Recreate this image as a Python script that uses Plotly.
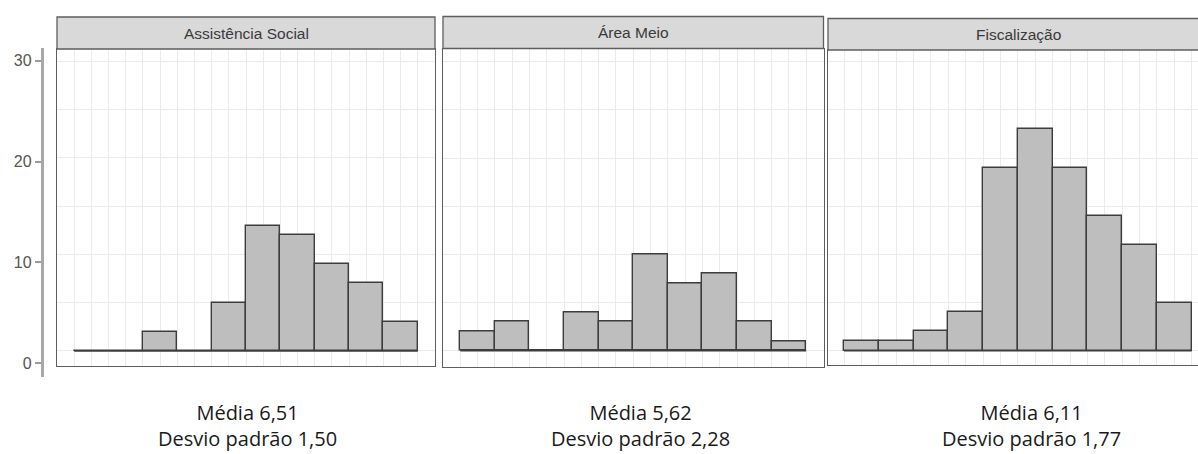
import plotly.graph_objects as go

W, H = 1198, 454

# Histogram data: counts per unit-wide bin over scores 0..10
panel_titles = ["Assistência Social", "Área Meio", "Fiscalização"]
bin_edges = [0, 1, 2, 3, 4, 5, 6, 7, 8, 9, 10]
counts_assistencia = [0, 0, 2, 0, 5, 13, 12, 9, 7, 3]
counts_area_meio = [2, 3, 0, 4, 3, 10, 7, 8, 3, 1]
counts_fiscalizacao = [1, 1, 2, 4, 19, 23, 19, 14, 11, 5]
medias = ["6,51", "5,62", "6,11"]
desvios = ["1,50", "2,28", "1,77"]
y_tick_values = [0, 10, 20, 30]

all_counts = [counts_assistencia, counts_area_meio, counts_fiscalizacao]


def fx(px):
    return px / W


def fy(py):
    return 1 - py / H


# panel boxes in pixels: left, right, plot top, plot bottom, strip top
boxes = [
    (57, 435, 49, 366, 17),
    (443, 823.5, 48.5, 366.5, 16.5),
    (828, 1209, 50, 365, 18.5),
]
x_ranges = [[-0.5, 10.5], [-0.5, 10.5], [-0.46, 10.18]]
y_ranges = [[-1.56, 31.29], [-1.64, 31.37], [-1.48, 31.22]]
stat_centers = [247, 640, 1031]

FILL = "#bebebe"
EDGE = "#3d3d3d"
FRAME = "#5e5e5e"
GRID = "#ebebeb"

fig = go.Figure()
layout = dict(
    width=W,
    height=H,
    margin=dict(l=0, r=0, t=0, b=0),
    paper_bgcolor="white",
    plot_bgcolor="white",
    showlegend=False,
    bargap=0,
)

shapes = []
annotations = []
centers = [(bin_edges[i] + bin_edges[i + 1]) / 2 for i in range(len(bin_edges) - 1)]
widths = [bin_edges[i + 1] - bin_edges[i] for i in range(len(bin_edges) - 1)]

for i, counts in enumerate(all_counts):
    n = i + 1
    xa = "x" if n == 1 else f"x{n}"
    ya = "y" if n == 1 else f"y{n}"
    left, right, top, bottom, strip_top = boxes[i]
    right_clip = min(right, W)

    # baseline under the bins (visible where a bin is empty)
    fig.add_trace(go.Scatter(
        x=[bin_edges[0], bin_edges[-1]], y=[0, 0], mode="lines",
        line=dict(color=EDGE, width=1.4), xaxis=xa, yaxis=ya,
        hoverinfo="skip", showlegend=False,
    ))
    fig.add_trace(go.Bar(
        x=centers, y=counts, width=widths,
        marker=dict(color=FILL, line=dict(color=EDGE, width=1.4)),
        xaxis=xa, yaxis=ya, showlegend=False,
    ))

    xdom = [fx(left), fx(right_clip)]
    ydom = [fy(bottom), fy(top)]
    layout["xaxis" if n == 1 else f"xaxis{n}"] = dict(
        domain=xdom, anchor=ya, range=x_ranges[i],
        tick0=0, dtick=0.5, showgrid=True, gridcolor=GRID, gridwidth=1,
        showticklabels=False, ticks="", zeroline=False,
        showline=True, mirror=True, linecolor=FRAME, linewidth=1.3,
        fixedrange=True,
    )
    layout["yaxis" if n == 1 else f"yaxis{n}"] = dict(
        domain=ydom, anchor=xa, range=y_ranges[i],
        tick0=0, dtick=5, showgrid=True, gridcolor=GRID, gridwidth=1,
        showticklabels=False, ticks="", zeroline=False,
        showline=True, mirror=True, linecolor=FRAME, linewidth=1.3,
        fixedrange=True,
    )

    # facet strip
    shapes.append(dict(
        type="rect", xref="paper", yref="paper",
        x0=fx(left), x1=fx(right), y0=fy(top), y1=fy(strip_top),
        fillcolor="#d9d9d9", line=dict(color=FRAME, width=1.3), layer="above",
    ))
    annotations.append(dict(
        text=panel_titles[i], xref="paper", yref="paper",
        x=fx((left + right) / 2), y=fy((top + strip_top) / 2),
        xanchor="center", yanchor="middle", showarrow=False,
        font=dict(family="Liberation Sans, Arial, sans-serif", size=15.5, color="#3a3a3a"),
    ))

    # summary statistics below each panel
    annotations.append(dict(
        text=f"Média {medias[i]}<br>Desvio padrão {desvios[i]}",
        xref="paper", yref="paper",
        x=fx(stat_centers[i]), y=fy(425),
        xanchor="center", yanchor="middle", showarrow=False,
        font=dict(family="Open Sans, Noto Sans, sans-serif", size=20, color="#1a1a1a"),
    ))

# shared count axis on the left
fig.add_trace(go.Scatter(
    x=[0], y=[0], mode="markers", marker=dict(opacity=0),
    xaxis="x4", yaxis="y4", hoverinfo="skip", showlegend=False,
))
layout["xaxis4"] = dict(domain=[fx(43.5), fx(45)], anchor="y4", visible=False,
                        range=[0, 1], fixedrange=True)
layout["yaxis4"] = dict(
    domain=[fy(377), fy(48)], anchor="x4", range=[-1.39, 31.28],
    tickvals=y_tick_values, ticks="outside", ticklen=6, tickwidth=1.5,
    tickcolor="#9a9a9a", showline=True, linecolor="#a8a8a8", linewidth=2.5,
    showgrid=False, zeroline=False,
    tickfont=dict(family="Liberation Sans, Arial, sans-serif", size=16, color="#555555"),
    fixedrange=True,
)

layout["shapes"] = shapes
layout["annotations"] = annotations
fig.update_layout(**layout)

fig.write_html("out.html")
